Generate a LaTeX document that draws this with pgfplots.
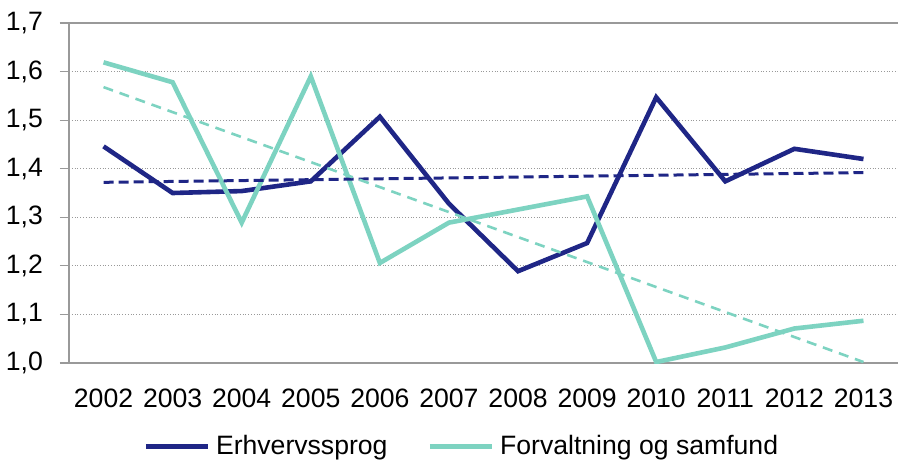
\documentclass[border=0pt]{standalone}
\usepackage{fontspec}
\setmainfont{Liberation Sans}
\usepackage{pgfplots}
\pgfplotsset{compat=1.18}
\definecolor{navy}{HTML}{1F2686}
\definecolor{teal}{HTML}{7DD3C1}
\newcommand{\chartfont}{\fontsize{13.3}{15}\selectfont}

\begin{document}
\begin{tikzpicture}
\path[use as bounding box] (0,0) rectangle (449pt,230.5pt);
\begin{axis}[
    at={(34.5pt,49pt)}, anchor=south west,
    scale only axis, width=414.5pt, height=170pt,
    xmin=-0.5, xmax=11.5, ymin=1.0, ymax=1.7,
    axis x line=bottom, axis y line=left,
    axis line style={-, gray!80, line width=0.6pt},
    xtick={0,...,11},
    xticklabels={2002,2003,2004,2005,2006,2007,2008,2009,2010,2011,2012,2013},
    x tick style={draw=none},
    minor xtick={-0.5,0.5,...,11.5},
    minor x tick style={gray!80, line width=0.6pt},
    minor tick length=4pt,
    ytick={1.0,1.1,...,1.7},
    y tick style={gray!80, line width=0.6pt},
    major tick length=4.5pt,
    tick align=outside,
    ymajorgrids,
    grid style={densely dotted, gray!80, line width=0.5pt},
    extra y ticks={1.7}, extra y tick labels={},
    extra y tick style={grid style={solid, gray!80, line width=0.6pt}},
    /pgf/number format/use comma,
    /pgf/number format/fixed,
    /pgf/number format/fixed zerofill,
    /pgf/number format/precision=1,
    /pgf/number format/assume math mode=true,
    every tick label/.append style={font=\chartfont, black},
    xticklabel style={yshift=-5pt},
    yticklabel style={xshift=-5pt},
    legend style={at={(0.475,-0.245)}, anchor=center, draw=none, fill=none,
        font=\chartfont, legend columns=2, inner sep=1pt,
        /tikz/every odd column/.append style={column sep=1pt},
        /tikz/every even column/.append style={column sep=18pt}},
    legend cell align=left,
    legend image code/.code={\draw[#1] (0pt,0pt) -- (31pt,0pt);},
]
\addplot[navy, line width=2.3pt] coordinates {
    (0,1.446) (1,1.350) (2,1.354) (3,1.374) (4,1.507) (5,1.328)
    (6,1.189) (7,1.247) (8,1.547) (9,1.374) (10,1.441) (11,1.420)
};
\addlegendentry{Erhvervssprog}
\addplot[teal, line width=2.3pt] coordinates {
    (0,1.619) (1,1.578) (2,1.289) (3,1.590) (4,1.206) (5,1.289)
    (6,1.316) (7,1.343) (8,1.002) (9,1.032) (10,1.071) (11,1.087)
};
\addlegendentry{Forvaltning og samfund}
% trend lines
\addplot[navy, line width=1.5pt, dash pattern=on 5pt off 2.5pt, forget plot] coordinates {
    (0,1.372) (11,1.392)
};
\addplot[teal, line width=1.3pt, dash pattern=on 5pt off 3.5pt, forget plot] coordinates {
    (0,1.568) (11,1.002)
};
\end{axis}
\end{tikzpicture}
\end{document}
